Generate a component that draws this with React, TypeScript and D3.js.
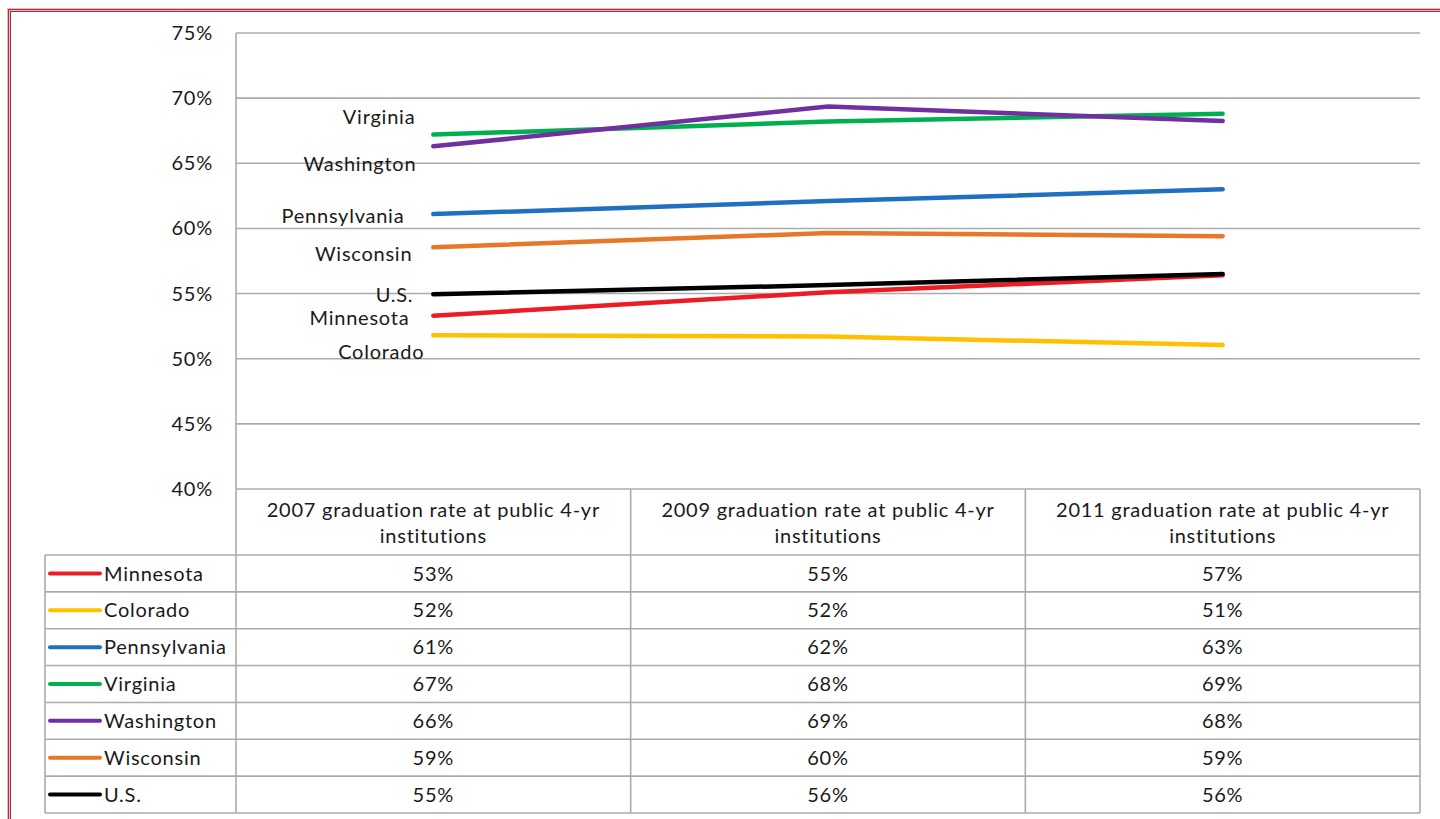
import React from "react";
import * as d3 from "d3";

const categories = ["2007", "2009", "2011"];
const headerLine1 = [
  "2007 graduation rate at public 4-yr",
  "2009 graduation rate at public 4-yr",
  "2011 graduation rate at public 4-yr",
];
const headerLine2 = ["institutions", "institutions", "institutions"];

const seriesNames = ["Minnesota", "Colorado", "Pennsylvania", "Virginia", "Washington", "Wisconsin", "U.S."];
const seriesColors = ["#ED1C24", "#FFC000", "#1F70C1", "#00B050", "#7030A0", "#E87729", "#000000"];

const minnesota = [53.3, 55.1, 56.4];
const colorado = [51.8, 51.7, 51.05];
const pennsylvania = [61.1, 62.1, 63.0];
const virginia = [67.2, 68.2, 68.8];
const washington = [66.3, 69.35, 68.25];
const wisconsin = [58.55, 59.65, 59.4];
const us = [54.95, 55.65, 56.5];
const seriesValues = [minnesota, colorado, pennsylvania, virginia, washington, wisconsin, us];

const minnesotaTable = ["53%", "55%", "57%"];
const coloradoTable = ["52%", "52%", "51%"];
const pennsylvaniaTable = ["61%", "62%", "63%"];
const virginiaTable = ["67%", "68%", "69%"];
const washingtonTable = ["66%", "69%", "68%"];
const wisconsinTable = ["59%", "60%", "59%"];
const usTable = ["55%", "56%", "56%"];
const tableValues = [minnesotaTable, coloradoTable, pennsylvaniaTable, virginiaTable, washingtonTable, wisconsinTable, usTable];

const yTicks = [40, 45, 50, 55, 60, 65, 70, 75];

// layout-only: in-plot label offsets relative to first point (dx to text end, dy to center)
const labelOffsets = [
  { dx: -24, dy: 2 },
  { dx: -9, dy: 17 },
  { dx: -29, dy: 2 },
  { dx: -18, dy: -18 },
  { dx: -17, dy: 17 },
  { dx: -21, dy: 6 },
  { dx: -20, dy: 1 },
];

const W = 1440;
const H = 819;
const plotLeft = 236;
const plotRight = 1420;
const plotTop = 33;
const plotBottom = 489;
const headerBottom = 555;
const tableBottom = 813;
const legendLeft = 45;
const FONT = "Lato, 'Open Sans', sans-serif";
const gridColor = "#ababab";

export default function App() {
  const x = d3.scaleBand<string>().domain(categories).range([plotLeft, plotRight]).padding(0);
  const y = d3.scaleLinear().domain([40, 75]).range([plotBottom, plotTop]);
  const cx = (c: string) => (x(c) as number) + x.bandwidth() / 2;
  const line = d3
    .line<number>()
    .x((_, i) => cx(categories[i]))
    .y((v) => y(v));
  const rowH = (tableBottom - headerBottom) / seriesNames.length;
  const textStyle = { fontFamily: FONT, fontSize: 20, fill: "#1a1a1a", letterSpacing: 0.75 } as const;

  return (
    <svg width={W} height={H} style={{ position: "absolute", left: 0, top: 0, background: "#fff" }}>
      {/* page border */}
      <rect x={8.5} y={9.5} width={3000} height={3000} fill="none" stroke="#e8b8bf" strokeWidth={3} />
      <rect x={8.5} y={9.5} width={3000} height={3000} fill="none" stroke="#a8303f" strokeWidth={1} />
      <rect x={10.5} y={11.5} width={3000} height={3000} fill="none" stroke="#a8303f" strokeWidth={1} />

      {/* gridlines */}
      {yTicks.map((t) => (
        <line key={t} x1={plotLeft} x2={plotRight} y1={y(t)} y2={y(t)} stroke={gridColor} strokeWidth={1.6} />
      ))}
      {yTicks.map((t) => (
        <text key={"l" + t} x={213} y={y(t)} dy="0.35em" textAnchor="end" {...textStyle}>
          {t}%
        </text>
      ))}

      {/* table lines */}
      <line x1={plotLeft} x2={plotLeft} y1={plotTop} y2={tableBottom} stroke={gridColor} strokeWidth={1.6} />
      <line x1={plotRight} x2={plotRight} y1={plotBottom} y2={tableBottom} stroke={gridColor} strokeWidth={1.6} />
      {categories.slice(1).map((c) => (
        <line key={"v" + c} x1={x(c)} x2={x(c)} y1={plotBottom} y2={tableBottom} stroke={gridColor} strokeWidth={1.6} />
      ))}
      <line x1={legendLeft} x2={legendLeft} y1={headerBottom} y2={tableBottom} stroke={gridColor} strokeWidth={1.6} />
      {d3.range(seriesNames.length + 1).map((i) => (
        <line
          key={"h" + i}
          x1={legendLeft}
          x2={plotRight}
          y1={headerBottom + i * rowH}
          y2={headerBottom + i * rowH}
          stroke={gridColor}
          strokeWidth={1.6}
        />
      ))}

      {/* header */}
      {categories.map((c, i) => (
        <g key={"hd" + c}>
          <text x={cx(c)} y={517} textAnchor="middle" {...textStyle}>
            {headerLine1[i]}
          </text>
          <text x={cx(c)} y={543} textAnchor="middle" {...textStyle}>
            {headerLine2[i]}
          </text>
        </g>
      ))}

      {/* rows */}
      {seriesNames.map((name, r) => {
        const yc = headerBottom + (r + 0.5) * rowH;
        return (
          <g key={"r" + name}>
            <line x1={50} x2={100} y1={yc} y2={yc} stroke={seriesColors[r]} strokeWidth={4} strokeLinecap="round" />
            <text x={104} y={yc} dy="0.36em" {...textStyle}>
              {name}
            </text>
            {categories.map((c, i) => (
              <text key={c} x={cx(c)} y={yc} dy="0.36em" textAnchor="middle" {...textStyle}>
                {tableValues[r][i]}
              </text>
            ))}
          </g>
        );
      })}

      {/* lines */}
      {seriesValues.map((vals, s) => (
        <path
          key={"p" + s}
          d={line(vals) as string}
          fill="none"
          stroke={seriesColors[s]}
          strokeWidth={4.5}
          strokeLinecap="round"
          strokeLinejoin="round"
        />
      ))}

      {/* in-plot labels */}
      {seriesValues.map((vals, s) => (
        <text
          key={"lab" + s}
          x={cx(categories[0]) + labelOffsets[s].dx}
          y={y(vals[0]) + labelOffsets[s].dy}
          dy="0.36em"
          textAnchor="end"
          {...textStyle}
        >
          {seriesNames[s]}
        </text>
      ))}
    </svg>
  );
}
